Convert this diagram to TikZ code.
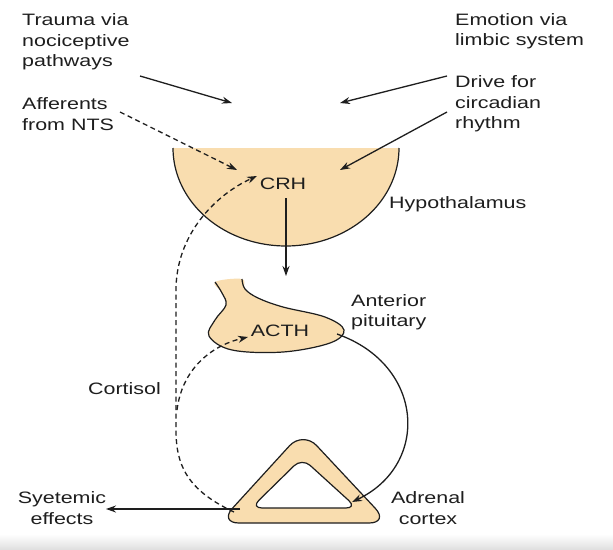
\documentclass[tikz,border=0pt]{standalone}
\usepackage{fontspec}
\setmainfont{Liberation Sans}[FakeStretch=1.3]
\usetikzlibrary{arrows.meta}
\definecolor{peach}{RGB}{249,221,175}
\definecolor{ink}{RGB}{30,30,30}
\tikzset{
  lbl/.style={inner sep=0pt, font=\fontsize{16.5}{20.5}\selectfont, text=ink},
  arr/.style={draw=ink, line width=1.3pt, -{Stealth[length=10pt,width=7pt]}},
  darr/.style={arr, dash pattern=on 5pt off 3.5pt},
  outline/.style={draw=ink, line width=1.2pt},
}
\begin{document}
\begin{tikzpicture}[x=1pt,y=-1pt]
\useasboundingbox (0,0) rectangle (613,549);
\fill[white] (0,0) rectangle (613,549);
\shade[top color=white, bottom color=black!12] (0,534) rectangle (613,549);

% hypothalamus
\fill[peach] plot[domain=180:360, samples=80, smooth] ({286+113*cos(\x)},{148-98*sin(\x)}) -- cycle;
\draw[outline] plot[domain=180:360, samples=80, smooth] ({286+113*cos(\x)},{148-98*sin(\x)});

% anterior pituitary
\fill[peach] plot[smooth cycle, tension=0.6] coordinates {(215,282) (222,293) (226,305) (215,320) (209,336) (232,350) (283,352) (330,343) (344,330) (325,317) (283,307) (258,298) (245,289) (242,279)};
\draw[outline] plot[smooth, tension=0.6] coordinates {(215,282) (222,293) (226,305) (215,320) (209,336) (232,350) (283,352) (330,343) (344,330) (325,317) (283,307) (258,298) (245,289) (242,279)};

% adrenal
\fill[peach, even odd rule, rounded corners=20pt] (303,431) -- (389,523) -- (219,523) -- cycle
  [rounded corners=11pt] (302,458) -- (357,508) -- (251,508) -- cycle;
\draw[outline, rounded corners=20pt] (303,431) -- (389,523) -- (219,523) -- cycle;
\draw[outline, rounded corners=11pt] (302,458) -- (357,508) -- (251,508) -- cycle;

% labels
\node[lbl, align=left, anchor=west] (trauma) at (22,42) {Trauma via\\nociceptive\\pathways};
\node[lbl, align=left, anchor=west] (aff) at (22,114) {Afferents\\from NTS};
\node[lbl, align=left, anchor=west] (emo) at (455,31) {Emotion via\\limbic system};
\node[lbl, align=left, anchor=west] (drive) at (455,104) {Drive for\\circadian\\rhythm};
\node[lbl] (crh) at (283,184) {CRH};
\node[lbl, anchor=west] (hyp) at (389,204) {Hypothalamus};
\node[lbl] (acth) at (280,331) {ACTH};
\node[lbl, align=left, anchor=west] (ant) at (351,312) {Anterior\\pituitary};
\node[lbl, anchor=east] (cort) at (161,389) {Cortisol};
\node[lbl, align=center] (sys) at (62,508) {Syetemic\\effects};
\node[lbl, align=center] (adr) at (428,508) {Adrenal\\cortex};

% points
\coordinate (tr0) at (140,76);
\coordinate (tr1) at (232,103);
\coordinate (em0) at (447,76);
\coordinate (em1) at (340,103);
\coordinate (af0) at (120,112);
\coordinate (af1) at (237,170);
\coordinate (dr0) at (447,112);
\coordinate (dr1) at (340,170);
\coordinate (crhb) at (286,198);
\coordinate (pit) at (286,276);
\coordinate (crhin) at (257,176);
\coordinate (acthin) at (248,337);
\coordinate (acthout) at (337,334);
\coordinate (adrin) at (352,502);
\coordinate (adrl) at (234,512);
\coordinate (branch) at (177,410);
\coordinate (sysend) at (106,509);
\coordinate (sysst) at (240,509);

% connectors
\draw[arr] (tr0) -- (tr1);
\draw[arr] (em0) -- (em1);
\draw[darr] (af0) -- (af1);
\draw[arr] (dr0) -- (dr1);
\draw[arr] (crhb) -- (pit);
\draw[arr] (acthout) .. controls (425,365) and (430,465) .. (adrin);
\draw[darr] (adrl) .. controls (187,490) and (176,465) .. (176,430) -- (176,290) .. controls (176,235) and (215,195) .. (crhin);
\draw[darr] (branch) .. controls (182,370) and (210,346) .. (acthin);
\draw[arr] (sysst) -- (sysend);
\end{tikzpicture}
\end{document}
